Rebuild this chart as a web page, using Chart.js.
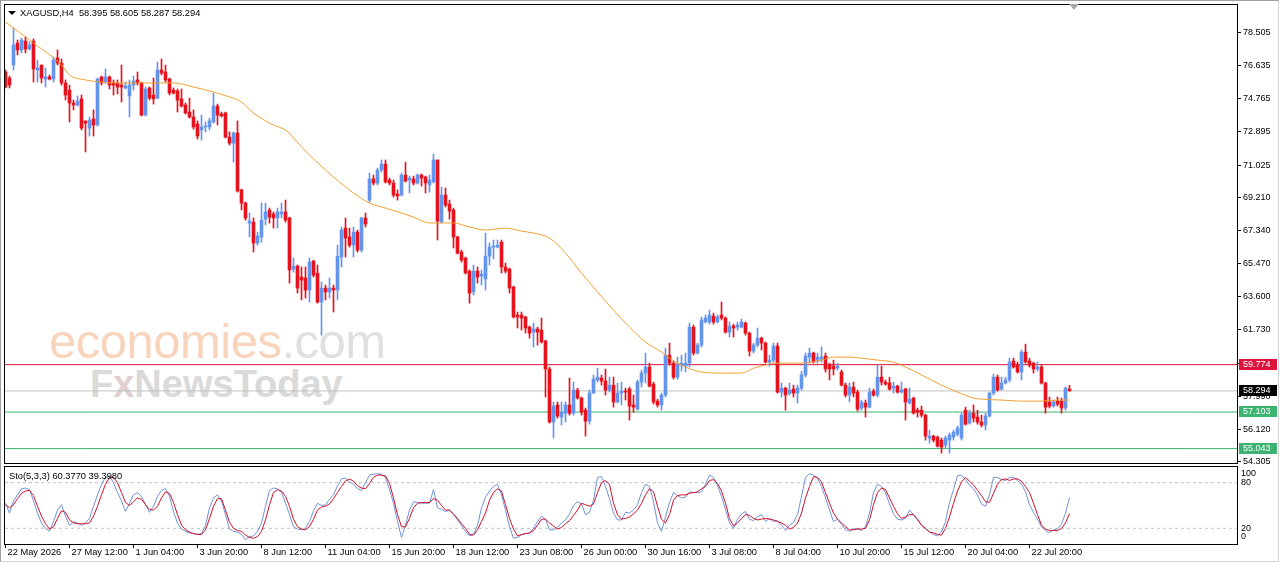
<!DOCTYPE html>
<html>
<head>
<meta charset="utf-8">
<script src="https://cdn.jsdelivr.net/npm/chart.js@4.4.1/dist/chart.umd.min.js"></script>
<style>
html,body{margin:0;padding:0;background:#fff;}
#wrap{position:relative;width:1280px;height:567px;overflow:hidden;background:#fff;font-family:"Liberation Sans",Arial,sans-serif;}
#outer{position:absolute;left:0;top:0;width:1277px;height:560px;border-style:solid;border-width:1px;border-color:#a0a0a0 #d4d4d4 #d4d4d4 #a0a0a0;}
canvas{position:absolute;left:0;z-index:2;}
#main{top:0;}
#sto{top:464px;}
.txt{position:absolute;white-space:pre;color:#000;font-size:9.3px;line-height:12px;z-index:3;}
#tri{position:absolute;left:8px;top:11px;width:0;height:0;border-left:4px solid transparent;border-right:4px solid transparent;border-top:4px solid #000;z-index:3;}
#shift{position:absolute;left:1069px;top:4px;width:0;height:0;border-left:5px solid transparent;border-right:5px solid transparent;border-top:6px solid #a8a8a8;z-index:3;}
#wm1{position:absolute;left:49px;top:317px;font-size:49px;line-height:49px;color:#f9d4bd;letter-spacing:-0.5px;z-index:1;white-space:pre;}
#wm1 span{color:#e0e0e0;}
#wm2{position:absolute;left:90px;top:365px;font-size:38px;line-height:38px;font-weight:bold;color:#dadada;z-index:1;white-space:pre;}
#wm2 span{color:#e3cfcf;}
</style>
</head>
<body>
<div id="wrap">
  <div id="outer"></div>
  <div id="wm1">economies<span>.com</span></div>
  <div id="wm2">F<span>x</span>NewsToday</div>
  <canvas id="main" width="1280" height="465"></canvas>
  <canvas id="sto" width="1280" height="103"></canvas>
  <div id="tri"></div>
  <div id="shift"></div>
  <div class="txt" id="title" style="left:20px;top:7px;">XAGUSD,H4  58.395 58.605 58.287 58.294</div>
  <div class="txt" id="stolbl" style="left:9px;top:470px;">Sto(5,3,3) 60.3770 39.3980</div>
</div>
<script>
// ---------- data ----------
const timeLabels = ["22 May 2026","27 May 12:00","1 Jun 04:00","3 Jun 20:00","8 Jun 12:00","11 Jun 04:00","15 Jun 20:00","18 Jun 12:00","23 Jun 08:00","26 Jun 00:00","30 Jun 16:00","3 Jul 08:00","8 Jul 04:00","10 Jul 20:00","15 Jul 12:00","20 Jul 04:00","22 Jul 20:00"];
const barsPerLabel = 16;
const priceTicks = [78.505,76.635,74.765,72.895,71.025,69.210,67.340,65.470,63.600,61.730,59.860,57.990,56.120,54.305];
const levelValues = [59.774, 58.294, 57.103, 55.043];
const stochLevels = [80, 20];
const stochTicks = [100, 80, 20, 0];

const opens = [
76.27,75.93,76.66,77.90,77.51,78.01,77.56,78.01,76.38,76.66,
75.87,75.99,75.87,77.06,76.77,75.65,75.25,74.52,74.41,74.75,
73.51,73.11,73.62,73.28,75.99,75.65,75.99,75.65,75.65,75.53,
75.37,74.92,75.53,75.82,75.65,73.84,75.37,74.97,74.80,76.38,
76.27,75.87,75.25,75.20,74.75,74.41,74.01,73.73,73.34,73.00,
73.17,73.17,73.45,74.35,73.90,73.96,72.60,72.26,72.83,69.62,
68.88,67.75,67.81,66.63,66.97,67.98,68.49,68.26,68.04,68.26,
68.38,68.04,65.16,65.33,64.71,64.66,63.98,65.61,64.93,63.30,
64.09,63.87,64.09,63.98,65.84,67.47,66.97,66.51,67.25,66.23,
68.04,69.05,70.24,70.01,70.74,71.08,70.18,70.01,69.39,69.33,
70.46,70.18,70.24,70.01,70.46,70.35,69.90,70.07,71.31,67.81,
69.33,68.83,68.49,66.97,66.12,65.78,65.05,63.87,65.05,64.77,
64.60,65.89,66.40,66.40,66.68,65.28,65.16,64.15,62.57,62.57,
62.46,61.89,61.61,61.78,61.72,61.10,59.53,56.54,57.50,56.82,
57.04,57.50,57.04,58.34,57.89,57.21,56.59,58.17,58.91,59.02,
58.85,58.34,58.62,57.67,58.17,58.28,58.40,57.50,57.27,58.79,
59.30,59.64,58.68,57.72,57.50,58.06,60.31,59.86,59.07,59.75,
59.69,59.86,61.89,60.43,60.88,62.18,62.18,62.51,62.18,62.57,
62.40,61.61,61.95,61.89,61.89,62.12,61.55,60.54,60.88,61.27,
60.99,59.92,60.03,60.82,58.23,58.45,58.17,58.40,58.17,58.45,
59.19,60.20,60.43,60.03,60.09,60.26,59.75,59.69,59.58,59.36,
58.62,58.06,58.51,58.23,57.33,57.61,57.38,58.28,58.06,59.07,
58.79,58.74,58.45,58.57,58.23,58.40,57.61,57.89,57.21,57.21,
56.93,55.64,55.75,55.69,55.52,55.24,55.52,55.69,55.86,55.64,
57.21,56.48,57.04,56.82,56.54,56.37,56.88,58.17,59.07,58.40,
58.74,58.91,59.98,59.75,59.36,60.48,59.98,59.86,59.53,59.64,
58.74,57.67,57.44,57.72,57.72,57.33,58.395];

const highs = [
76.38,76.04,78.75,78.07,78.18,78.24,77.96,78.13,76.94,76.66,
76.49,76.10,77.11,77.51,77.00,75.82,75.53,74.69,74.92,74.97,
73.51,73.73,74.13,75.93,76.04,76.44,76.04,75.82,75.82,76.66,
75.70,75.82,76.04,76.27,75.70,75.42,75.42,75.93,76.83,77.00,
76.66,75.93,75.37,75.31,75.31,74.52,74.80,74.13,73.51,73.84,
73.45,73.67,75.08,74.46,74.01,74.01,72.89,72.89,73.51,69.67,
68.94,68.32,68.04,67.25,68.88,68.88,68.60,68.38,68.60,68.88,
69.05,68.09,65.78,65.39,65.28,65.28,65.78,65.67,65.39,64.43,
64.26,64.66,64.26,66.51,67.53,68.04,67.47,67.53,67.36,68.09,
68.32,70.57,70.46,70.85,71.31,71.31,70.29,70.18,69.62,70.57,
71.19,70.40,70.40,70.52,70.52,70.40,70.46,71.64,71.31,69.78,
69.73,69.05,68.60,67.02,66.23,65.84,65.11,65.39,65.28,65.11,
67.19,66.63,66.80,66.80,66.80,65.50,65.22,64.20,62.74,62.74,
62.51,61.95,62.12,61.89,62.40,61.16,59.64,57.67,57.67,57.67,
57.67,59.02,58.79,58.45,57.95,57.33,58.34,59.19,59.58,59.19,
59.53,59.07,59.07,58.74,58.79,58.45,58.51,58.06,58.91,59.47,
60.43,59.86,58.79,57.83,58.17,60.71,60.99,59.98,60.20,60.31,
60.43,62.12,62.01,60.99,62.46,62.57,62.85,62.68,62.57,63.30,
62.46,62.18,62.06,62.18,62.34,62.18,61.61,60.99,61.84,61.33,
61.05,60.31,60.99,60.99,58.74,58.51,58.74,58.62,58.62,59.41,
60.43,60.71,60.48,60.43,60.77,60.43,59.86,60.03,59.86,59.47,
58.74,58.74,58.79,58.34,57.78,57.78,58.45,58.40,59.75,59.69,
58.91,59.07,58.79,58.62,58.79,58.45,58.45,57.95,57.33,57.44,
56.99,56.09,55.80,55.75,55.64,55.75,55.92,56.09,56.31,57.04,
57.38,57.21,57.50,57.21,56.93,57.04,58.23,59.24,59.19,59.07,
59.07,60.14,60.14,59.92,60.60,60.93,60.14,59.92,59.92,59.75,
58.79,57.95,57.78,57.95,57.89,58.51,58.605];

const lows = [
75.37,75.37,76.38,77.23,77.34,77.34,77.51,75.70,75.70,75.65,
75.42,75.82,75.70,76.66,75.53,74.69,73.45,74.13,74.35,73.00,
71.76,72.66,72.66,73.22,75.53,75.65,75.31,74.97,75.03,74.58,
75.31,73.73,75.25,75.53,73.79,73.79,74.69,74.46,74.75,76.10,
75.70,74.97,75.03,74.01,74.29,73.90,73.67,73.05,72.49,72.43,
72.89,73.00,73.39,73.28,73.73,72.55,72.15,71.19,69.50,68.49,
67.92,66.97,66.12,66.51,66.68,67.64,67.75,67.47,67.47,68.04,
67.81,64.37,64.99,63.81,63.42,63.53,63.30,64.71,63.24,61.44,
63.42,63.53,62.74,63.42,65.28,65.84,66.40,65.84,66.12,66.12,
67.53,68.94,69.90,69.90,70.63,70.01,69.90,69.22,69.05,69.28,
70.07,69.45,69.90,69.95,69.84,69.45,69.50,70.01,66.80,67.75,
68.66,67.98,66.35,66.01,65.56,64.88,63.24,63.70,64.37,64.26,
63.98,65.39,65.73,66.35,64.94,64.94,63.81,62.40,61.84,61.72,
61.55,61.27,60.77,60.88,60.99,57.95,56.48,55.64,56.76,56.37,
56.54,56.93,56.93,57.83,56.93,55.75,56.42,58.17,58.79,58.62,
58.06,58.23,57.38,57.61,57.50,57.78,56.65,57.10,57.21,58.51,
58.74,58.51,57.55,57.38,57.21,57.95,59.75,58.96,58.96,59.41,
59.36,59.64,60.31,60.37,60.77,62.12,62.06,62.06,62.12,62.29,
61.55,61.33,61.33,61.72,61.84,61.44,60.26,60.43,60.77,60.60,
59.86,59.69,59.92,58.17,57.95,57.21,58.06,57.95,57.61,58.34,
59.07,59.86,59.86,59.86,59.92,59.36,58.91,59.19,59.47,58.57,
57.95,57.67,57.95,57.16,57.21,56.82,57.33,58.00,57.95,58.62,
58.62,58.34,58.17,58.17,58.17,56.65,57.55,56.99,56.82,56.82,
55.52,55.35,55.41,55.13,54.79,55.07,54.79,55.52,55.75,55.52,
56.37,56.42,56.54,56.42,56.26,56.09,56.82,58.06,58.28,58.34,
58.68,58.79,59.58,59.30,58.91,59.86,59.64,59.30,59.41,58.68,
57.04,57.33,57.38,57.44,57.04,57.21,58.287];

const closes = [
75.42,75.53,77.79,77.51,78.07,77.56,77.79,76.44,76.49,75.93,
75.99,75.87,76.94,76.77,75.65,74.97,74.52,74.41,74.63,73.11,
73.39,73.56,73.28,75.87,75.65,75.99,75.53,75.53,75.42,75.42,
75.48,75.53,75.76,75.65,73.84,75.31,74.80,74.75,76.38,76.21,
75.82,75.08,75.08,74.69,74.35,73.96,73.73,73.17,72.66,73.17,
73.22,73.51,74.35,73.84,73.79,72.60,72.26,72.83,69.56,68.88,
68.04,67.87,66.63,67.02,67.92,68.38,68.09,68.04,68.38,68.38,
67.92,65.11,65.33,64.09,64.54,63.98,65.56,64.82,63.30,64.09,
63.87,64.09,63.98,65.89,67.36,66.91,66.51,67.25,66.23,68.04,
67.70,70.24,70.01,70.74,71.08,70.07,70.01,69.33,69.28,70.46,
70.12,70.29,70.01,70.46,70.29,70.01,70.18,71.31,67.87,69.33,
68.77,68.43,66.97,66.06,65.67,64.94,63.81,65.05,64.71,64.88,
65.89,66.40,66.46,66.51,65.28,65.05,64.09,62.46,62.46,62.40,
61.84,61.55,61.78,61.61,61.05,59.53,56.54,57.44,56.88,57.10,
57.50,57.04,58.34,57.89,57.10,56.59,58.17,58.96,59.07,58.85,
58.34,58.62,57.67,58.17,58.28,58.23,57.44,57.38,58.79,59.30,
59.64,58.57,57.67,57.50,58.06,60.31,59.86,59.07,59.75,59.86,
59.86,61.89,60.43,60.88,62.29,62.40,62.57,62.18,62.46,62.40,
61.61,61.95,61.84,62.01,62.18,61.55,60.54,60.88,61.27,60.99,
59.92,60.03,60.82,58.23,58.45,58.06,58.34,58.17,58.45,59.19,
60.26,60.43,59.92,60.20,60.20,59.53,59.53,59.53,59.69,58.62,
58.06,58.51,58.17,57.27,57.67,57.38,58.23,58.06,59.07,58.79,
58.68,58.40,58.57,58.23,58.34,57.67,57.83,57.04,57.10,56.93,
55.75,55.75,55.52,55.18,55.13,55.64,55.80,55.97,56.20,56.93,
56.42,57.04,56.76,56.54,56.37,56.88,58.17,59.07,58.34,58.74,
58.91,59.92,59.64,59.36,60.48,59.92,59.75,59.53,59.64,58.74,
57.38,57.44,57.67,57.55,57.33,58.45,58.294];

// moving average read at these bars
const maBars = [0,7,14,16,20,24,29,35,42,47,52,56,59,62,66,71,72,76,82,87,91,95,99,102,106,108,112,116,120,125,129,132,136,140,144,148,152,156,160,164,166,170,174,179,184,187,190,192,195,199,204,207,211,214,218,222,225,229,234,238,242,244,249,254,259,263,266];
const maValues = [79.09,77.90,76.66,76.10,75.82,75.70,75.65,75.65,75.65,75.42,75.14,74.86,74.58,73.96,73.39,72.83,72.55,71.59,70.35,69.45,68.88,68.60,68.32,68.09,67.76,67.76,67.76,67.53,67.36,67.47,67.30,67.19,66.91,66.06,64.94,63.87,62.85,61.89,61.05,60.48,60.14,59.64,59.36,59.30,59.30,59.58,59.75,59.86,59.86,59.86,60.03,60.20,60.20,60.14,60.03,59.92,59.64,59.19,58.62,58.23,57.89,57.83,57.78,57.72,57.72,57.78,57.78];

const stochK = [
53,40,56,64,72,73,71,56,40,27,
20,16,29,44,51,36,24,29,27,24,
27,33,49,64,78,87,89,80,67,56,
42,53,64,67,62,51,41,49,62,70,
72,62,42,27,19,16,14,13,12,13,
24,47,60,64,56,38,19,16,15,12,
5,9,10,16,27,49,70,73,72,67,
53,38,22,19,18,20,29,43,53,50,
51,58,64,76,85,86,81,78,72,70,
80,90,91,92,91,87,71,53,29,8,
24,44,55,54,53,53,53,71,47,45,
42,44,38,31,24,16,10,12,24,47,
61,69,75,78,64,44,22,7,8,11,
13,13,20,29,36,32,18,18,21,27,
31,39,50,55,52,38,41,57,87,88,
75,59,40,31,31,41,40,44,51,67,
78,75,55,27,16,35,54,67,63,60,
61,68,67,67,68,78,90,87,76,62,
45,27,20,32,39,42,32,30,35,38,
29,33,29,30,24,17,24,28,38,62,
87,92,90,86,75,60,44,29,32,25,
18,16,19,20,17,22,40,67,78,75,
67,52,39,32,31,33,44,38,31,24,
19,15,12,10,15,29,54,71,89,90,
84,77,72,64,52,49,64,87,87,84,
83,87,87,83,78,68,51,41,32,22,
17,14,18,19,26,40,60.377];

const stochD = [
51,47,51,59,66,69,70,63,49,36,
26,19,22,33,43,41,31,27,26,26,
26,27,36,49,64,78,87,87,80,67,
54,50,55,60,58,51,45,44,49,60,
68,66,54,38,24,18,15,13,12,12,
18,33,49,59,59,44,28,20,17,16,
11,8,7,9,16,31,51,67,71,69,
62,49,32,22,19,18,22,32,44,48,
49,52,59,67,75,82,85,82,76,73,
72,79,87,90,90,89,79,60,38,22,
22,33,47,53,54,54,54,59,57,50,
44,44,39,33,26,20,12,11,18,29,
40,57,67,72,69,51,33,19,10,12,
13,14,17,24,32,32,27,23,19,21,
26,30,37,44,53,51,49,52,67,80,
83,78,53,38,32,33,35,39,44,53,
64,72,68,49,32,27,38,57,63,64,
64,66,67,68,72,75,83,84,79,69,
53,33,23,27,33,38,37,33,31,32,
33,32,31,29,27,24,19,21,27,40,
60,75,88,87,81,67,53,40,32,27,
22,18,18,19,19,20,31,51,67,73,
71,60,49,39,33,35,38,38,32,24,
20,15,14,12,11,20,35,53,69,81,
87,82,77,70,63,55,54,66,78,84,
85,83,85,85,82,75,67,53,38,24,
19,17,17,17,20,27,39.398];

// ---------- styles / view ----------
const BULL = '#6495ED', BEAR = '#e5131d', MA_COLOR = '#f0a030';
const K_COLOR = '#6f93d6', D_COLOR = '#d0102c';
const levelColors = ['#dc143c', '#c0c0c0', '#3cb371', '#3cb371'];
const levelTagBg = ['#dc143c', '#000000', '#3cb371', '#3cb371'];
const X_MIN = -0.125, X_MAX = 307.875;
const Y_MIN = 54.232, Y_MAX = 80.044;
const FONT = {family: '"Liberation Sans", Arial, sans-serif', size: 9};
const FONT_STR = '9px "Liberation Sans", Arial, sans-serif';

const idx = opens.map((_, i) => i);
const barColors = idx.map(i => closes[i] > opens[i] ? BULL : BEAR);

const framePlugin = {
  id: 'frame',
  afterDraw(chart) {
    const {ctx, chartArea: a} = chart;
    ctx.save();
    ctx.strokeStyle = '#000';
    ctx.lineWidth = 1;
    ctx.strokeRect(a.left - 0.5, a.top - 0.5, a.right - a.left + 1, a.bottom - a.top + 1);
    ctx.restore();
  }
};

const levelTagPlugin = {
  id: 'levelTags',
  afterDraw(chart) {
    const {ctx, chartArea: a} = chart;
    const y = chart.scales.y;
    ctx.save();
    ctx.font = FONT_STR;
    ctx.textBaseline = 'middle';
    ctx.textAlign = 'left';
    levelValues.forEach((v, k) => {
      const py = Math.round(y.getPixelForValue(v));
      ctx.fillStyle = levelTagBg[k];
      ctx.fillRect(a.right + 2, py - 6, 38, 11);
      ctx.fillStyle = '#fff';
      ctx.fillText(v.toFixed(3), a.right + 6, py - 0.5);
    });
    ctx.restore();
  }
};

const stoLabelPlugin = {
  id: 'stoLabels',
  afterDraw(chart) {
    const {ctx, chartArea: a} = chart;
    const y = chart.scales.y;
    ctx.save();
    ctx.font = FONT_STR;
    ctx.fillStyle = '#000';
    ctx.textBaseline = 'middle';
    ctx.textAlign = 'left';
    stochTicks.forEach(v => {
      let py = y.getPixelForValue(v);
      py = Math.min(Math.max(py, a.top + 6.5), a.bottom - 7);
      ctx.fillText(String(v), a.right + 4, py);
    });
    ctx.restore();
  }
};

const levelDatasets = levelValues.map((v, k) => ({
  type: 'line',
  data: [{x: X_MIN, y: v}, {x: X_MAX, y: v}],
  borderColor: levelColors[k],
  borderWidth: 1,
  pointRadius: 0,
  order: 10
}));

new Chart(document.getElementById('main'), {
  type: 'bar',
  data: {
    datasets: [
      ...levelDatasets,
      {
        type: 'line',
        data: maBars.map((b, k) => ({x: b, y: maValues[k]})),
        borderColor: MA_COLOR,
        borderWidth: 1,
        pointRadius: 0,
        cubicInterpolationMode: 'monotone',
        order: 0
      },
      {
        data: idx.map(i => ({x: i, y: [lows[i], highs[i]]})),
        backgroundColor: barColors,
        barThickness: 1,
        grouped: false,
        minBarLength: 1,
        order: 3
      },
      {
        data: idx.map(i => ({x: i, y: [opens[i], closes[i]]})),
        backgroundColor: barColors,
        barThickness: 3,
        grouped: false,
        minBarLength: 1,
        order: 2
      }
    ]
  },
  options: {
    responsive: false,
    animation: false,
    devicePixelRatio: 1,
    layout: {padding: {left: 5, top: 5, right: 0, bottom: 2}},
    plugins: {legend: {display: false}, tooltip: {enabled: false}},
    scales: {
      x: {type: 'linear', min: X_MIN, max: X_MAX, offset: false, display: false},
      y: {
        type: 'linear', position: 'right', min: Y_MIN, max: Y_MAX,
        afterBuildTicks(s) { s.ticks = priceTicks.map(v => ({value: v})); },
        afterFit(s) { s.width = 43; s.paddingTop = 0; s.paddingBottom = 0; },
        ticks: {callback: v => Number(v).toFixed(3), font: FONT, color: '#000', padding: 2, autoSkip: false},
        grid: {drawOnChartArea: false, drawTicks: true, tickLength: 4, color: '#000', lineWidth: 1},
        border: {display: false}
      }
    }
  },
  plugins: [framePlugin, levelTagPlugin]
});

new Chart(document.getElementById('sto'), {
  type: 'line',
  data: {
    datasets: [
      ...stochLevels.map(v => ({
        data: [{x: X_MIN, y: v}, {x: X_MAX, y: v}],
        borderColor: '#c0c0c0', borderWidth: 1, borderDash: [3, 3], pointRadius: 0, order: 10
      })),
      {data: idx.map(i => ({x: i, y: stochK[i]})), borderColor: K_COLOR, borderWidth: 1, pointRadius: 0, order: 2},
      {data: idx.map(i => ({x: i, y: stochD[i]})), borderColor: D_COLOR, borderWidth: 1, pointRadius: 0, order: 1}
    ]
  },
  options: {
    responsive: false,
    animation: false,
    devicePixelRatio: 1,
    layout: {padding: {left: 5, top: 3, right: 43, bottom: 0}},
    plugins: {legend: {display: false}, tooltip: {enabled: false}},
    scales: {
      x: {
        type: 'linear', min: X_MIN, max: X_MAX, offset: false, position: 'bottom',
        afterBuildTicks(s) { s.ticks = timeLabels.map((_, k) => ({value: k * barsPerLabel})); },
        afterFit(s) { s.height = 23; s.paddingLeft = 0; s.paddingRight = 0; },
        ticks: {callback: (v, i) => timeLabels[i], align: 'start', labelOffset: 2, autoSkip: false, maxRotation: 0, minRotation: 0,
                font: {family: FONT.family, size: 9.3, lineHeight: 1}, color: '#000', padding: 0},
        grid: {drawOnChartArea: false, drawTicks: true, tickLength: 4, color: '#000', lineWidth: 1},
        border: {display: false}
      },
      y: {type: 'linear', min: -0.66, max: 100.66, display: false}
    }
  },
  plugins: [framePlugin, stoLabelPlugin]
});
</script>
</body>
</html>
